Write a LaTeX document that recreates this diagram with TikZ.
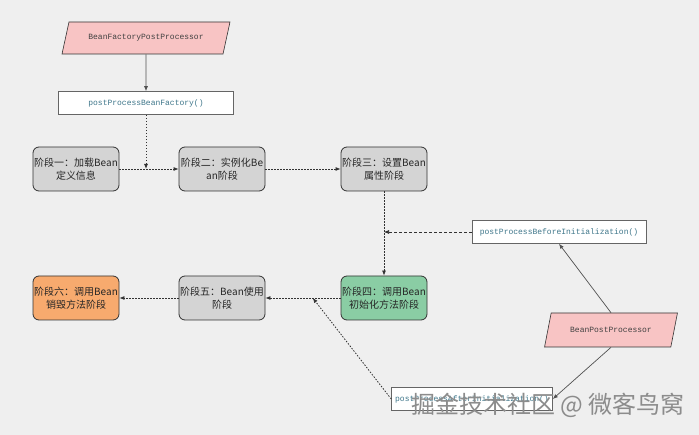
\documentclass[tikz,border=0pt]{standalone}
\usepackage{fontspec}
\setmainfont{Liberation Sans}
\setmonofont{Liberation Mono}
\newfontfamily\cjk{Noto Sans CJK SC}
\usepackage{tikz}
\usetikzlibrary{arrows.meta,calc,shapes.geometric}
\definecolor{figbg}{RGB}{239,239,239}
\definecolor{figline}{RGB}{50,50,50}
\definecolor{figpink}{RGB}{248,196,196}
\definecolor{figgray}{RGB}{212,212,212}
\definecolor{figgreen}{RGB}{138,205,164}
\definecolor{figorange}{RGB}{247,170,110}
\definecolor{figcode}{RGB}{62,118,138}
\tikzset{
  stg/.style   ={draw=figline, fill=figgray, line width=0.8pt, rounded corners=6pt,
                 minimum width=86pt, minimum height=44pt, inner sep=1pt, align=center,
                 text=black!85, font=\cjk\fontsize{10}{13}\selectfont},
  prc/.style   ={trapezium, trapezium left angle=68, trapezium right angle=112,
                 trapezium stretches=true, draw=figline, fill=figpink, line width=0.6pt,
                 text=black!75, font=\ttfamily\fontsize{8}{9}\selectfont},
  mth/.style   ={draw=figline!75, fill=white, line width=0.6pt, minimum height=23pt,
                 inner sep=2pt, text=figcode, font=\ttfamily\fontsize{8}{9}\selectfont},
  dotar/.style ={draw=figline, line width=0.8pt, dash pattern=on 1.5pt off 1.5pt,
                 -{Latex[length=5pt,width=4pt]}},
  dashar/.style={draw=figline, line width=0.6pt, dash pattern=on 3pt off 2pt,
                 -{Latex[length=5pt,width=4pt]}},
  solar/.style ={draw=figline!85, line width=0.7pt, -{Latex[length=5pt,width=4pt]}},
}
\begin{document}
\begin{tikzpicture}[x=1pt,y=-1pt]
  \fill[figbg] (0,0) rectangle (699,435);
  \useasboundingbox (0,0) rectangle (699,435);
  % factory side
  \node[prc,minimum width=168pt,minimum height=32pt] (bfpp) at (146,38) {BeanFactoryPostProcessor};
  \node[mth,minimum width=175pt] (ppbf) at (146,103) {postProcessBeanFactory()};
  % stages
  \node[stg] (s1) at (76,169) {阶段一：加载Bean\\定义信息};
  \node[stg] (s2) at (222,169) {阶段二：实例化Be\\an阶段};
  \node[stg] (s3) at (384,169) {阶段三：设置Bean\\属性阶段};
  \node[stg,fill=figgreen] (s4) at (384,298) {阶段四：调用Bean\\初始化方法阶段};
  \node[stg] (s5) at (222,298) {阶段五：Bean使用\\阶段};
  \node[stg,fill=figorange] (s6) at (76,298) {阶段六：调用Bean\\销毁方法阶段};
  % bean post processor side
  \node[mth,minimum width=174pt] (ppbi) at (559,232) {postProcessBeforeInitialization()};
  \node[prc,minimum width=133pt,minimum height=34pt] (bpp) at (611,330) {BeanPostProcessor};
  \node[mth,minimum width=161pt] (ppai) at (472,399) {postProcessAfterInitialization()};
  \coordinate (j1) at (ppbf.south |- s1.east);
  \coordinate (j2) at (s3.south |- ppbi.west);
  \coordinate (j3) at ($(s5.east)!0.63!(s4.west)$);
  \draw[solar] (bfpp) -- (ppbf);
  \draw[dotar] (ppbf) -- (j1);
  \draw[dotar] (s1) -- (s2);
  \draw[dotar] (s2) -- (s3);
  \draw[dotar] (s3) -- (s4);
  \draw[dotar] (s4) -- (s5);
  \draw[dotar] (s5) -- (s6);
  \draw[dashar] (ppbi) -- (j2);
  \draw[solar] (bpp.north) -- (ppbi.south);
  \draw[solar] (bpp.south) -- (ppai.east);
  \draw[dotar] (ppai.west) -- (j3);
  \node[text=black!45,font=\cjk\fontsize{24}{24}\selectfont] (wm) at (548,405) {掘金技术社区 @ 微客鸟窝};
\end{tikzpicture}
\end{document}
